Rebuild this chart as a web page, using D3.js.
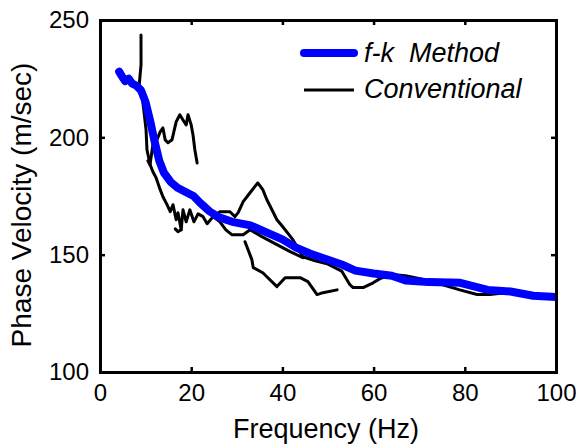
<meta charset="utf-8">
<html>
<head>
<style>
  body { margin: 0; background: #fff; }
  text { font-family: Arial, "Liberation Sans", sans-serif; fill: #000; }
</style>
</head>
<body>
<script src="https://d3js.org/d3.v7.min.js"></script>
<div id="chart"></div>
<script>

// axis ticks
var xTicks = [0, 20, 40, 60, 80, 100];
var yTicks = [100, 150, 200, 250];

// f-k method curve (freq Hz, phase velocity m/sec)
var fkFreq = [4.2, 4.8, 5.5, 6.3, 7, 8, 9, 10, 11, 12, 13, 14, 15.5, 17, 19, 20.5, 22, 24, 26, 29, 33, 36.5, 40, 43, 46, 50, 53, 56, 60, 64, 67, 72, 79, 82, 85, 90, 95, 100];
var fkVel  = [228, 226, 224, 225, 223, 222, 220, 215, 207, 198, 190, 185, 181, 178.5, 176.5, 175, 172, 168.5, 166, 164, 162.5, 159.5, 156.5, 153, 150.5, 147.8, 145.8, 143.2, 142, 141, 139, 138.3, 138, 136.5, 135, 134.3, 132.5, 132];

// conventional curves, several pieces
var convA = [[8.99,243.6],[9.0,231],[8.6,222.3],[9.2,218],[9.6,211.7],[10.1,203.2],[10.3,194.7],[11,188.3],[11.6,185.3],[12.3,182.8],[13.2,177.7],[13.8,174.7],[14.7,171.3],[15.4,168.3],[16,171.3],[16.7,164.9],[17.1,167.9],[17.8,160.6],[18.2,169.1],[18.9,164],[19.7,169.1],[20.6,164],[21.5,167.4],[22.6,166.2],[23.5,163.2],[24.8,166.2],[26.3,168.3],[28.5,168.3],[29.6,166.2],[30.3,167.9],[31.4,172.6],[32.9,176.4],[34.6,180.6],[35.7,177.7],[36.6,173.4],[38.8,164.9],[39.9,162.3],[42.3,156.4],[44.5,149.1],[47,147.5],[50,146],[53,143],[54.8,137.2],[55.5,136],[57.7,136],[59.9,138],[61.4,139.8],[64,141.5],[67,141],[72,139],[78.9,135],[82.7,133],[85.5,133],[90,134],[95,132.5],[100,132]];
var convB = [[10.5,190],[10.96,188.3],[11.6,196.8],[12.5,199],[13.2,202.3],[13.8,204],[14.3,198.9],[14.9,197.7],[15.8,199],[16.7,206.6],[17.5,209.6],[18.2,207.4],[18.9,205.3],[19.3,209.6],[20,205.3],[20.4,201],[20.8,194.7],[21.3,189.1]];
var convC = [[31.8,155.5],[33.3,147.9],[33.6,144.5],[35.7,142.3],[38.8,136.4],[40.6,140.2],[43.9,140.2],[45.6,138.5],[47.6,133],[48.9,133.8],[52,135]];
var convE = [[24.8,166.2],[26.3,164],[27.6,160.6],[28.9,158.5],[31.4,158.5],[32.9,160.6],[35.5,157.7],[38.8,154.3],[41.7,151.3],[44.5,148.7]];
var convD = [[16.5,161],[17.1,159.8],[17.8,160.6]];

var W = 579, H = 447;
var svg = d3.select("#chart").append("svg")
  .attr("width", W).attr("height", H);

var x = d3.scaleLinear().domain([0, 100]).range([100, 556]);
var y = d3.scaleLinear().domain([100, 250]).range([372, 20]);

svg.append("clipPath").attr("id", "clip")
  .append("rect")
  .attr("x", x(0)).attr("y", y(250))
  .attr("width", x(100) - x(0)).attr("height", y(100) - y(250));

var line = d3.line()
  .x(function(d) { return x(d[0]); })
  .y(function(d) { return y(d[1]); });

var plot = svg.append("g").attr("clip-path", "url(#clip)");

// black conventional lines
[convA, convB, convC, convE, convD].forEach(function(seg) {
  plot.append("path")
    .datum(seg)
    .attr("d", line)
    .attr("fill", "none")
    .attr("stroke", "#000")
    .attr("stroke-width", 3)
    .attr("stroke-linejoin", "round")
    .attr("stroke-linecap", "round");
});

// blue f-k line on top
var fk = fkFreq.map(function(f, i) { return [f, fkVel[i]]; });
plot.append("path")
  .datum(fk)
  .attr("d", line)
  .attr("fill", "none")
  .attr("stroke", "#0000ff")
  .attr("stroke-width", 8)
  .attr("stroke-linejoin", "round")
  .attr("stroke-linecap", "round");

// axes, with inward ticks like a matlab box
var tickLen = 5;
svg.append("g").attr("transform", "translate(0," + y(100) + ")")
  .call(d3.axisBottom(x).tickValues(xTicks).tickSize(-tickLen).tickPadding(12));
svg.append("g").attr("transform", "translate(0," + y(250) + ")")
  .call(d3.axisTop(x).tickValues(xTicks).tickSize(-tickLen).tickFormat(""));
svg.append("g").attr("transform", "translate(" + x(0) + ",0)")
  .call(d3.axisLeft(y).tickValues(yTicks).tickSize(-tickLen).tickPadding(11));
svg.append("g").attr("transform", "translate(" + x(100) + ",0)")
  .call(d3.axisRight(y).tickValues(yTicks).tickSize(-tickLen).tickFormat(""));

svg.selectAll(".domain").attr("stroke", "#000").attr("stroke-width", 3);
svg.selectAll(".tick line").attr("stroke", "#000").attr("stroke-width", 2.5);
svg.selectAll(".tick text")
  .style("font-family", "Arial, 'Liberation Sans', sans-serif")
  .style("font-size", "24px")
  .attr("fill", "#000");

// axis titles
svg.append("text")
  .attr("x", 326).attr("y", 438)
  .attr("text-anchor", "middle")
  .style("font-size", "27px")
  .text("Frequency (Hz)");

svg.append("text")
  .attr("transform", "translate(31,205) rotate(-90)")
  .attr("text-anchor", "middle")
  .style("font-size", "28px")
  .text("Phase Velocity (m/sec)");

// legend
var legend = svg.append("g");
legend.append("line")
  .attr("x1", 304).attr("x2", 354).attr("y1", 53).attr("y2", 53)
  .attr("stroke", "#0000ff").attr("stroke-width", 8).attr("stroke-linecap", "round");
legend.append("text")
  .attr("x", 364).attr("y", 62)
  .style("font-size", "27px").style("font-style", "italic")
  .text("f-k\u00a0 Method");
legend.append("line")
  .attr("x1", 304).attr("x2", 354).attr("y1", 90).attr("y2", 90)
  .attr("stroke", "#000").attr("stroke-width", 3);
legend.append("text")
  .attr("x", 364).attr("y", 98)
  .style("font-size", "27px").style("font-style", "italic")
  .text("Conventional");

</script>
</body>
</html>
